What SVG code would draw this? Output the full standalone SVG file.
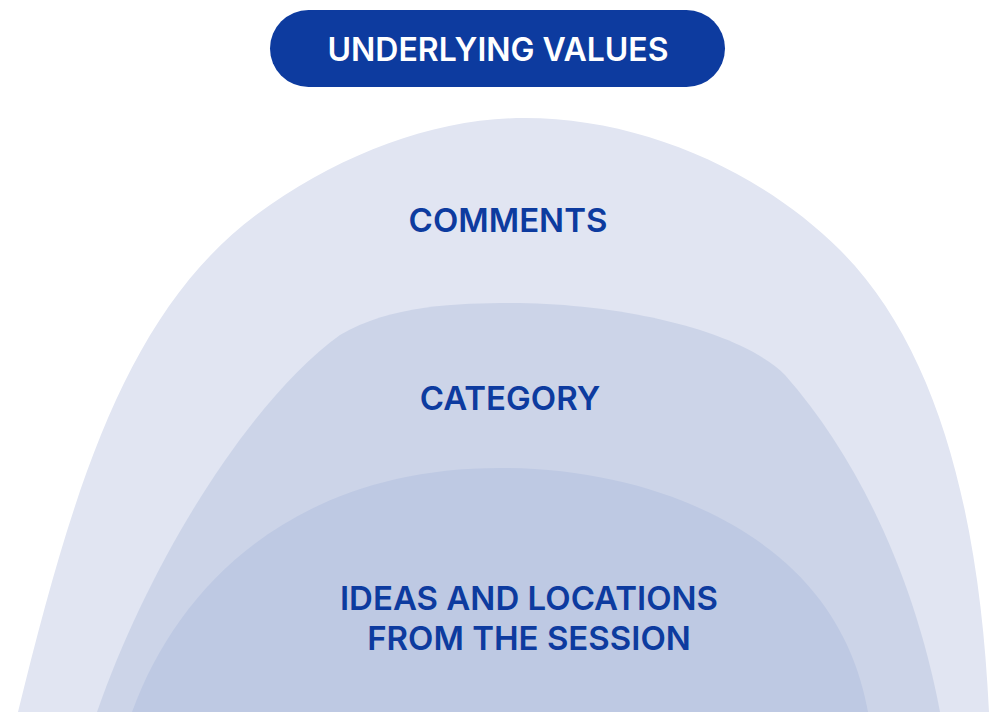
<svg xmlns="http://www.w3.org/2000/svg" width="993" height="712" viewBox="0 0 993 712">
<style>
.lbl{font-family:Inter,"Noto Sans","Liberation Sans",sans-serif;font-size:33px;font-weight:600;fill:#0D3B9F;text-anchor:middle}
.pill{font-family:Inter,"Noto Sans","Liberation Sans",sans-serif;font-size:32px;font-weight:600;fill:#FFFFFF;text-anchor:middle}
</style>
<rect width="993" height="712" fill="#FFFFFF"/>
<g id="outer">
<path d="M18,712 C75,480 130,300 270,205 C350,150 440,118 525,118 C640,118 760,170 840,250 C940,350 980,520 989,712 Z" fill="#E1E5F2"/>
<text class="lbl" x="508" y="232">COMMENTS</text>
</g>
<g id="middle">
<path d="M97,712 C150,560 250,400 340,335 C390,305 460,303 510,303 C620,303 740,330 785,375 C860,460 915,580 940,712 Z" fill="#CCD4E8"/>
<text class="lbl" x="510" y="410">CATEGORY</text>
</g>
<g id="inner">
<path d="M132,712 C180,580 300,468 500,468 C640,468 760,520 820,600 C850,640 862,680 868,712 Z" fill="#BEC9E3"/>
<text class="lbl" x="529" y="610">IDEAS AND LOCATIONS</text>
<text class="lbl" x="529" y="650">FROM THE SESSION</text>
</g>
<g id="underlying-values">
<rect x="270" y="10" width="455" height="77" rx="38.5" fill="#0D3B9F"/>
<text class="pill" x="498" y="61">UNDERLYING VALUES</text>
</g>
<g id="connectors"/>
</svg>
